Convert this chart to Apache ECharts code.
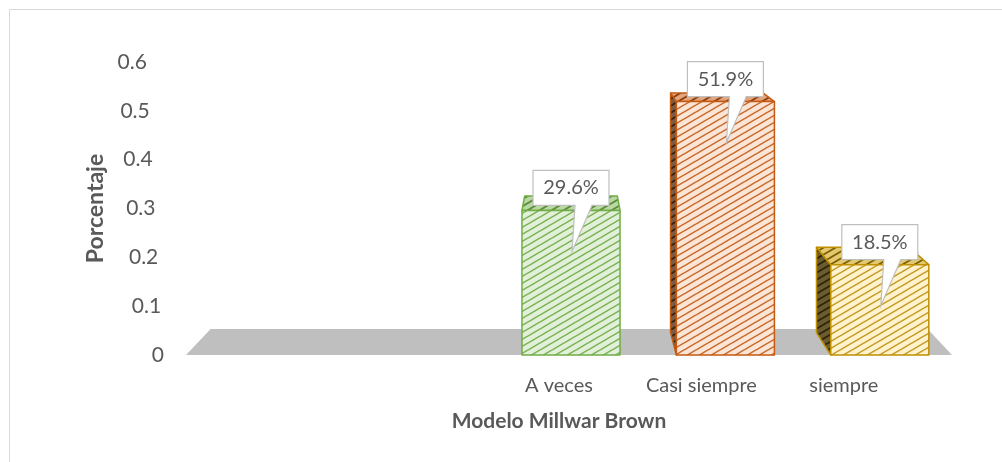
<!DOCTYPE html>
<html><head><meta charset="utf-8">
<script src="https://cdn.jsdelivr.net/npm/echarts/dist/echarts.min.js"></script>
<style>html,body{margin:0;padding:0;background:#fff}#c{width:1002px;height:462px}</style>
</head><body><div id="c"></div>
<script>
// ---- data ----
const categories = ['', '', 'A veces', 'Casi siempre', 'siempre'];
const values = [null, null, 0.296, 0.519, 0.185];
const yTickLabels = ['0', '0.1', '0.2', '0.3', '0.4', '0.5', '0.6'];
const xAxisTitle = 'Modelo Millwar Brown';
const yAxisTitle = 'Porcentaje';

// ---- styles ----
const FONT = 'Lato';
const TXT = '#595959';
const VP = [571, -53];      // perspective vanishing point
const F_BAR = 0.055;        // bar depth factor
const F_FLOOR = 0.064;      // floor depth factor
const palette = [null, null,
  {front: ['#e2f0d9', '#79b152'], top: ['#b9d8a2', '#5a8a3a'], side: ['#7d9a68', '#3b5c25'], line: '#70ad47'},
  {front: ['#fbe5d6', '#c8682a'], top: ['#e3a57c', '#8a3d0b'], side: ['#7d5a44', '#3d2008'], line: '#c55a11'},
  {front: ['#fff2cc', '#c29a22'], top: ['#e3c870', '#7f6000'], side: ['#6a5c30', '#2e2608'], line: '#bf9000'}
];

function pat(bg, fg, lw) {
  const w = 12, h = 7;
  const c = document.createElement('canvas');
  c.width = w; c.height = h;
  const g = c.getContext('2d');
  g.fillStyle = bg; g.fillRect(0, 0, w, h);
  g.strokeStyle = fg; g.lineWidth = lw;
  for (let k = -1; k <= 1; k++) {
    g.beginPath();
    g.moveTo(-w, 2 * h + k * h);
    g.lineTo(2 * w, -h + k * h);
    g.stroke();
  }
  return {image: c, repeat: 'repeat'};
}
const pats = palette.map(p => p && {
  front: pat(p.front[0], p.front[1], 1.5),
  top: pat(p.top[0], p.top[1], 1.8),
  side: pat(p.side[0], p.side[1], 1.8)
});

function back(p, f) { return [p[0] + f * (VP[0] - p[0]), p[1] + f * (VP[1] - p[1])]; }

function renderFloor(params, api) {
  const n = categories.length;
  const band = api.size([1, 0])[0];
  const a = api.coord([0, 0]);
  const b = api.coord([n - 1, 0]);
  const fl = [a[0] - band / 2 + 1, a[1]];
  const fr = [b[0] + band / 2 - 5, b[1]];
  return {
    type: 'polygon',
    shape: {points: [fl, fr, back(fr, F_FLOOR), back(fl, F_FLOOR)]},
    style: {fill: '#bfbfbf'}
  };
}

function renderBar(params, api) {
  const i = api.value(0), v = api.value(1);
  const st = palette[i], pt = pats[i];
  const base = api.coord([i, 0]), top = api.coord([i, v]);
  const bw = api.size([1, 0])[0] * 0.635;
  const x0 = base[0] - bw / 2, x1 = base[0] + bw / 2, yb = base[1], yt = top[1];
  const ch = [];
  const stroke = {stroke: st.line, lineWidth: 1.5, lineJoin: 'round'};
  if (x0 > VP[0]) {
    ch.push({type: 'polygon', shape: {points: [[x0, yt], [x0, yb], back([x0, yb], F_BAR), back([x0, yt], F_BAR)]},
      style: Object.assign({fill: pt.side}, stroke)});
  }
  if (x1 < VP[0]) {
    ch.push({type: 'polygon', shape: {points: [[x1, yt], [x1, yb], back([x1, yb], F_BAR), back([x1, yt], F_BAR)]},
      style: Object.assign({fill: pt.side}, stroke)});
  }
  ch.push({type: 'polygon', shape: {points: [[x0, yt], [x1, yt], back([x1, yt], F_BAR), back([x0, yt], F_BAR)]},
    style: Object.assign({fill: pt.top}, stroke)});
  ch.push({type: 'rect', shape: {x: x0, y: yt, width: bw, height: yb - yt},
    style: Object.assign({fill: pt.front}, stroke)});
  // callout
  const cx = base[0];
  const bwid = 76, bh = 35;
  const by1 = yt - 5, by0 = by1 - bh;
  const bx0 = cx - bwid / 2, bx1 = cx + bwid / 2;
  ch.push({type: 'polygon', shape: {points: [
      [bx0, by0], [bx1, by0], [bx1, by1], [cx + 21, by1], [cx + 1, yt + 41], [cx + 4, by1], [bx0, by1]]},
    style: {fill: '#fff', stroke: '#bfbfbf', lineWidth: 1.2}});
  ch.push({type: 'text', style: {
      text: (v * 100).toFixed(1) + '%', x: cx, y: (by0 + by1) / 2,
      align: 'center', verticalAlign: 'middle',
      fontSize: 20, fontFamily: FONT, fill: TXT}});
  return {type: 'group', children: ch};
}

const rich = {};
yTickLabels.forEach((t, k) => {
  rich['p' + k] = {fontSize: 21, fontFamily: FONT, color: TXT, padding: [0, k * 2.85, 0, 0]};
});

const barData = [];
values.forEach((v, i) => { if (v != null) barData.push([i, v]); });

const chart = echarts.init(document.getElementById('c'), null, {renderer: 'canvas'});
chart.setOption({
  animation: false,
  backgroundColor: '#fff',
  graphic: [{type: 'rect', left: 7, top: 7, shape: {width: 1010, height: 470},
    style: {fill: 'none', stroke: '#d9d9d9', lineWidth: 1}, silent: true}],
  grid: [
    {left: 185, width: 772, top: 62, bottom: 107},
    {left: 203, width: 712, top: 62, bottom: 107}
  ],
  xAxis: [
    {type: 'category', gridIndex: 0, data: categories, show: false},
    {type: 'category', gridIndex: 1, data: categories,
      axisLine: {show: false}, axisTick: {show: false},
      axisLabel: {fontSize: 20, fontFamily: FONT, color: TXT, margin: 21, interval: 0, hideOverlap: false},
      name: xAxisTitle, nameLocation: 'middle', nameGap: 56,
      nameTextStyle: {fontSize: 21, fontFamily: FONT, fontWeight: 'bold', color: TXT}}
  ],
  yAxis: [
    {type: 'value', gridIndex: 0, min: 0, max: 0.6, interval: 0.1,
      axisLine: {show: false}, axisTick: {show: false}, splitLine: {show: false},
      axisLabel: {margin: 21, formatter: (v, k) => '{p' + k + '|' + yTickLabels[k] + '}', rich: rich},
      name: yAxisTitle, nameLocation: 'middle', nameGap: 78,
      nameTextStyle: {fontSize: 23, fontFamily: FONT, fontWeight: 'bold', color: TXT}},
    {type: 'value', gridIndex: 1, min: 0, max: 0.6, show: false}
  ],
  series: [
    {type: 'custom', xAxisIndex: 0, yAxisIndex: 0, silent: true, z: 1,
      data: [[0]], renderItem: renderFloor},
    {type: 'custom', xAxisIndex: 0, yAxisIndex: 0, silent: true, z: 2,
      data: barData, renderItem: renderBar}
  ]
});
</script>
</body></html>
